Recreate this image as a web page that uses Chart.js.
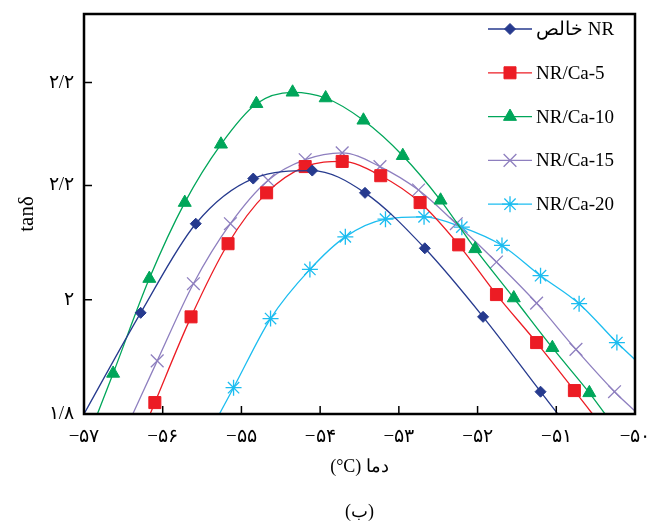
<!DOCTYPE html>
<html>
<head>
<meta charset="utf-8">
<title>tanδ</title>
<script src="https://cdn.jsdelivr.net/npm/chart.js"></script>
<style>
  body { margin: 0; background: #fff; }
  #wrap { width: 647px; height: 527px; }
</style>
</head>
<body>
<div id="wrap"><canvas id="tand"></canvas></div>
<script>
// first and last value of each series = where the curve meets the frame (no marker there)
var nrX   = [-57.00, -56.28, -55.58, -54.85, -54.10, -53.43, -52.67, -51.93, -51.20, -50.98];
var nrY   = [1.800, 1.977, 2.133, 2.212, 2.226, 2.187, 2.090, 1.970, 1.839, 1.800];
var ca5X  = [-56.16, -56.10, -55.64, -55.17, -54.68, -54.19, -53.72, -53.23, -52.73, -52.24, -51.76, -51.25, -50.77, -50.54];
var ca5Y  = [1.800, 1.820, 1.970, 2.098, 2.187, 2.233, 2.242, 2.217, 2.170, 2.096, 2.009, 1.925, 1.841, 1.800];
var ca10X = [-56.83, -56.63, -56.17, -55.72, -55.26, -54.81, -54.35, -53.93, -53.45, -52.95, -52.47, -52.03, -51.54, -51.05, -50.58, -50.38];
var ca10Y = [1.800, 1.871, 2.037, 2.170, 2.272, 2.343, 2.363, 2.353, 2.314, 2.252, 2.174, 2.089, 2.003, 1.916, 1.837, 1.800];
var ca15X = [-56.38, -56.07, -55.61, -55.14, -54.66, -54.19, -53.72, -53.24, -52.75, -52.27, -51.76, -51.25, -50.75, -50.26, -50.00];
var ca15Y = [1.800, 1.893, 2.028, 2.133, 2.209, 2.245, 2.257, 2.233, 2.192, 2.133, 2.066, 1.994, 1.913, 1.839, 1.805];
var ca20X = [-55.28, -55.10, -54.63, -54.13, -53.68, -53.17, -52.68, -52.20, -51.69, -51.20, -50.71, -50.23, -50.00];
var ca20Y = [1.800, 1.846, 1.967, 2.053, 2.110, 2.141, 2.145, 2.127, 2.095, 2.042, 1.993, 1.925, 1.895];

var labels = ['خالص NR', 'NR/Ca-5', 'NR/Ca-10', 'NR/Ca-15', 'NR/Ca-20'];

var xTicks = [-57, -56, -55, -54, -53, -52, -51, -50];
var xTickLabels = ['−۵۷', '−۵۶', '−۵۵', '−۵۴', '−۵۳', '−۵۲', '−۵۱', '−۵۰'];
var yTicks = [1.8, 2.0, 2.2, 2.38];
var yTickLabels = ['۱/۸', '۲', '۲/۲', '۲/۲'];

var FONT = '"Liberation Serif", "DejaVu Serif", serif';

function pts(xs, ys) {
  return xs.map(function(x, i) { return {x: x, y: ys[i]}; });
}
function radii(n, r) {
  return Array.from({length: n}, function(_, i) { return (i === 0 || i === n - 1) ? 0 : r; });
}
function serie(label, xs, ys, color, style, r, fill) {
  return {
    label: label,
    data: pts(xs, ys),
    borderColor: color,
    borderWidth: 1.3,
    pointStyle: style,
    pointRadius: radii(xs.length, r),
    pointBackgroundColor: fill ? color : 'rgba(0,0,0,0)',
    pointBorderColor: color,
    pointBorderWidth: fill ? 1 : 1.3,
    cubicInterpolationMode: 'monotone',
    fill: false
  };
}
function noPad(s) {
  s.paddingLeft = 0; s.paddingRight = 0; s.paddingTop = 0; s.paddingBottom = 0;
}

// frame, inward tick marks, legend with line + marker
var frameAndLegend = {
  id: 'frameAndLegend',
  afterDraw: function(chart) {
    var ctx = chart.ctx, a = chart.chartArea;
    var xs = chart.scales.x, ys = chart.scales.y;
    ctx.save();
    ctx.strokeStyle = '#000';
    ctx.lineWidth = 1.5;
    ctx.beginPath();
    xs.ticks.forEach(function(t) {
      var px = xs.getPixelForValue(t.value);
      ctx.moveTo(px, a.bottom); ctx.lineTo(px, a.bottom - 8);
    });
    ys.ticks.forEach(function(t) {
      var py = ys.getPixelForValue(t.value);
      ctx.moveTo(a.left, py); ctx.lineTo(a.left + 8, py);
    });
    ctx.stroke();
    ctx.lineWidth = 2.5;
    ctx.strokeRect(a.left, a.top, a.right - a.left, a.bottom - a.top);

    chart.data.datasets.forEach(function(ds, i) {
      var y = 29 + i * 43.8;
      ctx.strokeStyle = ds.borderColor;
      ctx.lineWidth = 1.3;
      ctx.beginPath();
      ctx.moveTo(488, y); ctx.lineTo(532, y);
      ctx.stroke();
      ctx.fillStyle = ds.pointBackgroundColor;
      ctx.strokeStyle = ds.pointBorderColor;
      ctx.lineWidth = ds.pointBorderWidth;
      Chart.helpers.drawPoint(ctx, {
        pointStyle: ds.pointStyle, radius: ds.pointRadius[1],
        rotation: 0, borderWidth: ds.pointBorderWidth
      }, 510, y);
      ctx.fillStyle = '#000';
      ctx.font = '19px ' + FONT;
      ctx.textAlign = 'left';
      ctx.textBaseline = 'middle';
      ctx.fillText(ds.label, 536, y + 1);
    });
    ctx.restore();
  }
};

var ctx = document.getElementById('tand').getContext('2d');
var chart = new Chart(ctx, {
  type: 'line',
  data: {
    datasets: [
      serie(labels[0], nrX, nrY, '#263a8e', 'rectRot', 5.5, true),
      serie(labels[1], ca5X, ca5Y, '#ec1c24', 'rect', 8.5, true),
      serie(labels[2], ca10X, ca10Y, '#00a65a', 'triangle', 7.5, true),
      serie(labels[3], ca15X, ca15Y, '#8e7fbf', 'crossRot', 9, false),
      serie(labels[4], ca20X, ca20Y, '#1cbdf0', 'star', 8, false)
    ]
  },
  options: {
    responsive: true,
    maintainAspectRatio: false,
    animation: false,
    layout: { padding: { top: 14, right: 12, left: 0, bottom: 0 } },
    plugins: {
      legend: { display: false },
      tooltip: { enabled: false },
      title: {
        display: true,
        position: 'bottom',
        fullSize: false,
        text: '(ب)',
        color: '#000',
        font: { family: FONT, size: 18, weight: 'normal' },
        padding: { top: 0, bottom: 4 }
      }
    },
    scales: {
      x: {
        type: 'linear',
        min: -57,
        max: -50,
        grid: { display: false, drawTicks: false },
        border: { display: false },
        afterBuildTicks: function(s) { s.ticks = xTicks.map(function(v) { return {value: v}; }); },
        ticks: {
          autoSkip: false, maxRotation: 0, padding: 12, color: '#000',
          font: { family: FONT, size: 19 },
          callback: function(v, i) { return xTickLabels[i]; }
        },
        title: {
          display: true, text: '(°C) دما', color: '#000',
          font: { family: FONT, size: 18 },
          padding: { top: 0, bottom: 23 }
        },
        afterFit: function(s) { s.height = 87.4; noPad(s); }
      },
      y: {
        type: 'linear',
        min: 1.8,
        max: 2.5,
        grid: { display: false, drawTicks: false },
        border: { display: false },
        afterBuildTicks: function(s) { s.ticks = yTicks.map(function(v) { return {value: v}; }); },
        ticks: {
          autoSkip: false, padding: 10, color: '#000',
          font: { family: FONT, size: 19 },
          callback: function(v, i) { return yTickLabels[i]; }
        },
        title: {
          display: true, text: 'tanδ', color: '#000',
          font: { family: FONT, size: 21 },
          padding: { top: 15, bottom: 0 }
        },
        afterFit: function(s) { s.width = 84; noPad(s); }
      }
    }
  },
  plugins: [frameAndLegend]
});
</script>
</body>
</html>
